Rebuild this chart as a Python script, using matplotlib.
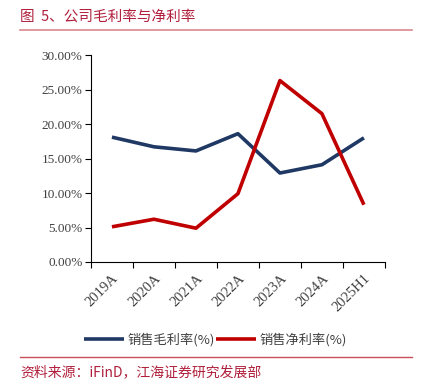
import numpy as np
import matplotlib.pyplot as plt
from matplotlib.ticker import FixedLocator

plt.rcParams['font.family'] = ['Noto Sans CJK SC', 'DejaVu Sans']

years = ['2019A', '2020A', '2021A', '2022A', '2023A', '2024A', '2025H1']
gross_margin = [18.1, 16.7, 16.1, 18.6, 12.9, 14.1, 18.0]
net_margin = [5.1, 6.2, 4.9, 9.9, 26.3, 21.5, 8.3]

blue = '#1f3864'
red = '#c00000'
title_red = '#b0203c'
serif = 'Liberation Serif'

fig = plt.figure(figsize=(4.23, 3.85), dpi=100)
ax = fig.add_axes([0.215, 0.3195, 0.695, 0.5375])

x = np.arange(len(years))
ax.plot(x, gross_margin, color=blue, lw=2.6, label='销售毛利率(%)', solid_capstyle='butt')
ax.plot(x, net_margin, color=red, lw=2.6, label='销售净利率(%)', solid_capstyle='butt')

ax.set_xlim(-0.5, len(years) - 0.5)
ax.set_ylim(0, 30)
ax.set_yticks(np.arange(0, 31, 5))
ax.set_yticklabels(['%.2f%%' % v for v in np.arange(0, 31, 5)],
                   fontfamily=serif, fontsize=9.5, color='#404040')
ax.set_xticks(x)
ax.set_xticklabels(years, rotation=45, ha='right', rotation_mode='anchor',
                   fontfamily=serif, fontsize=10.5, color='#404040')
ax.tick_params(axis='x', which='major', length=0, pad=7)
ax.xaxis.set_minor_locator(FixedLocator(np.arange(-0.5, len(years), 1)))
ax.tick_params(axis='x', which='minor', length=4, width=0.8, color='black')
ax.tick_params(axis='y', length=4, width=0.8, color='black', pad=2)

for s in ['top', 'right']:
    ax.spines[s].set_visible(False)
for s in ['left', 'bottom']:
    ax.spines[s].set_linewidth(0.8)

leg = fig.legend(loc='center', bbox_to_anchor=(0.51, 0.117), ncol=2, frameon=False,
                 fontsize=9.5, handlelength=3.0, columnspacing=0.1, handletextpad=0.3)
for t in leg.get_texts():
    t.set_color('#404040')

fig.text(0.047, 0.958, '图  5、公司毛利率与净利率', color=title_red, fontsize=10.5, va='center')
fig.add_artist(plt.Line2D([0.047, 0.975], [0.922, 0.922], color='#d9888f', lw=1.2))
fig.add_artist(plt.Line2D([0.047, 0.975], [0.073, 0.073], color='#c8505a', lw=1.0))
fig.text(0.047, 0.033, '资料来源：iFinD，江海证券研究发展部', color=title_red, fontsize=10, va='center')

fig.savefig('out.png', dpi=100)
